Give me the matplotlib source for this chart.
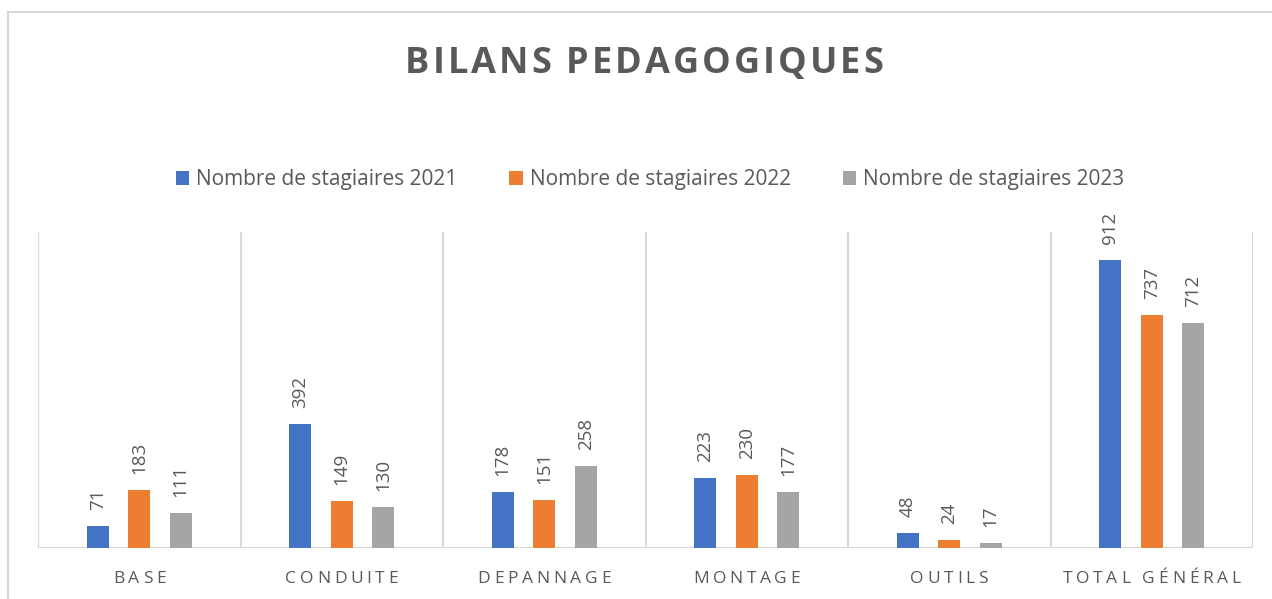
import matplotlib
matplotlib.use("Agg")
import matplotlib.pyplot as plt
from matplotlib.lines import Line2D
import numpy as np

categories = ["BASE", "CONDUITE", "DEPANNAGE", "MONTAGE", "OUTILS", "TOTAL GÉNÉRAL"]
series_names = ["Nombre de stagiaires 2021", "Nombre de stagiaires 2022", "Nombre de stagiaires 2023"]
stagiaires_2021 = [71, 392, 178, 223, 48, 912]
stagiaires_2022 = [183, 149, 151, 230, 24, 737]
stagiaires_2023 = [111, 130, 258, 177, 17, 712]
title = "BILANS PEDAGOGIQUES"

colors = ["#4472C4", "#ED7D31", "#A5A5A5"]
text_grey = "#595959"
line_grey = "#D9D9D9"
W, H = 1272, 599

plt.rcParams["font.family"] = ["Open Sans", "DejaVu Sans"]

fig = plt.figure(figsize=(W / 100, H / 100), dpi=100)
renderer = fig.canvas.get_renderer()


def spaced_text(s, cx, baseline, gap, **kw):
    """Draw s centred on cx (pixels) with gap extra pixels between letters."""
    def width(txt):
        t = fig.text(0, 0, txt, **kw)
        w = t.get_window_extent(renderer).width
        t.remove()
        return w
    space_w = width("a a") - width("aa")
    widths = [space_w if ch == " " else width(ch) for ch in s]
    total = sum(widths) + gap * (len(s) - 1)
    x = cx - total / 2
    for ch, w in zip(s, widths):
        if ch != " ":
            fig.text(x / W, baseline / H, ch, ha="left", va="baseline", **kw)
        x += w + gap


# chart frame
fig.add_artist(Line2D([8 / W, 8 / W], [0, 1 - 12 / H], color=line_grey, lw=1.5,
                      transform=fig.transFigure))
fig.add_artist(Line2D([8 / W, 1], [1 - 12 / H, 1 - 12 / H], color=line_grey, lw=1.5,
                      transform=fig.transFigure))

ax = fig.add_axes([38 / W, 1 - 548 / H, (1253 - 38) / W, (548 - 232) / H])
x = np.arange(len(categories))
bar_w = 0.109
offset = 0.205
all_series = [stagiaires_2021, stagiaires_2022, stagiaires_2023]
for i, (vals, name, c) in enumerate(zip(all_series, series_names, colors)):
    bars = ax.bar(x + (i - 1) * offset, vals, width=bar_w, color=c, label=name, zorder=3)
    for b, v in zip(bars, vals):
        ax.annotate(str(v), (b.get_x() + b.get_width() / 2, v), xytext=(0, 11.5),
                    textcoords="offset points", rotation=90, ha="center", va="bottom",
                    fontsize=13.5, color=text_grey)

ax.set_xlim(-0.5, len(categories) - 0.5)
ax.set_ylim(0, 1000)
ax.vlines(np.arange(len(categories) + 1) - 0.5, 0, 1000, color=line_grey, lw=1.5, zorder=1)
ax.axhline(0, color=line_grey, lw=1.5, zorder=2)
for s in ax.spines.values():
    s.set_visible(False)
ax.set_xticks([])
ax.set_yticks([])

# category labels with wide letter spacing
for xi, cat in zip(x, categories):
    px = ax.transData.transform((xi, 0))[0]
    spaced_text(cat, px, H - 583, 3.7, fontsize=12.5, color=text_grey)

spaced_text(title, 644, H - 73, 3.0, fontsize=26, fontweight="bold", color=text_grey)

handles, labels = ax.get_legend_handles_labels()
fig.legend(handles, labels, loc="center", bbox_to_anchor=(650 / W, 1 - 180 / H), ncol=3,
           frameon=False, fontsize=15, handlelength=0.63, handleheight=0.63,
           handletextpad=0.34, columnspacing=2.5, labelcolor=text_grey)

fig.savefig("out.png", dpi=100)
